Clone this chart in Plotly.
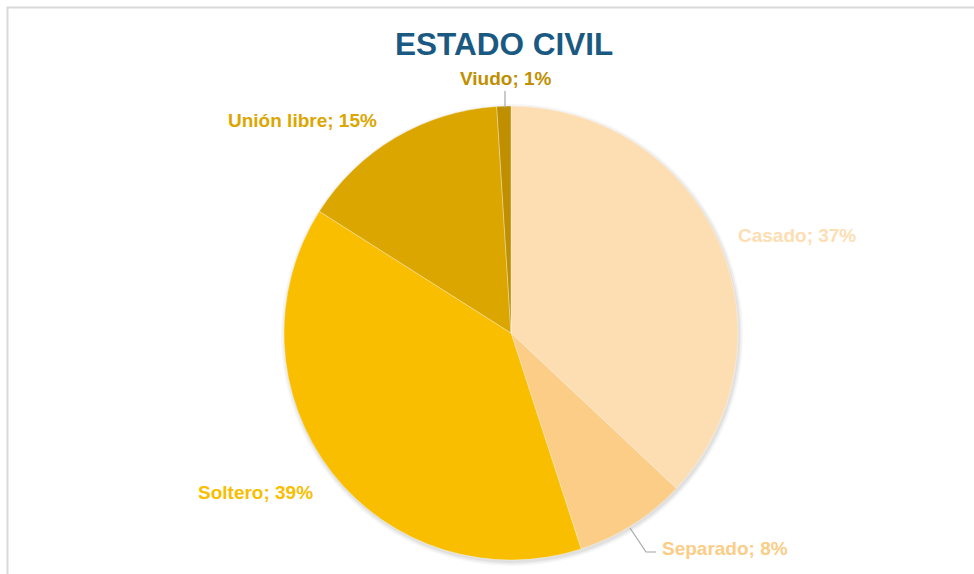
import plotly.graph_objects as go

# Data
categories = ["Casado", "Separado", "Soltero", "Unión libre", "Viudo"]
values = [37, 8, 39, 15, 1]
colors = ["#FDDEB3", "#FBCD86", "#F9BE00", "#DCA600", "#BF8F00"]

W, H = 974, 574
cx, cy, r = 511, 333, 227


def px(x):
    return x / W


def py(y):
    return 1 - y / H


fig = go.Figure()
fig.add_trace(go.Pie(
    labels=categories,
    values=values,
    sort=False,
    direction="clockwise",
    rotation=0,
    marker=dict(colors=colors, line=dict(color="rgba(255,255,255,0.45)", width=0.7)),
    textinfo="none",
    hoverinfo="label+percent",
    showlegend=False,
    domain=dict(x=[px(cx - r), px(cx + r)], y=[py(cy + r), py(cy - r)]),
))

# label placements (pixel centers) — styling only
label_pos = {
    "Casado": (797, 236),
    "Separado": (725, 548),
    "Soltero": (255, 492),
    "Unión libre": (302, 120),
    "Viudo": (506, 78),
}
total = sum(values)
annotations = []
for cat, val, col in zip(categories, values, colors):
    x, y = label_pos[cat]
    annotations.append(dict(
        x=px(x), y=py(y), xref="paper", yref="paper",
        text=f"<b>{cat}; {round(val / total * 100)}%</b>",
        showarrow=False, xanchor="center", yanchor="middle",
        font=dict(family="Liberation Sans, Arial", size=19, color=col),
    ))

annotations.append(dict(
    x=px(504), y=py(44), xref="paper", yref="paper",
    text="<b>ESTADO CIVIL</b>", showarrow=False,
    xanchor="center", yanchor="middle",
    font=dict(family="Liberation Sans, Arial", size=31.5, color="#1A5A82"),
))

shapes = []
# soft shadow
for i, a in enumerate([0.03, 0.04, 0.05]):
    rr = r + 4 - i * 1.5
    shapes.append(dict(
        type="circle", xref="paper", yref="paper", layer="below",
        x0=px(cx + 1 - rr), x1=px(cx + 1 + rr), y0=py(cy + 2 + rr), y1=py(cy + 2 - rr),
        fillcolor=f"rgba(0,0,0,{a})", line=dict(width=0),
    ))
# leader lines
lc = "#A6A6A6"
shapes.append(dict(type="line", xref="paper", yref="paper",
                   x0=px(505), y0=py(91), x1=px(505), y1=py(108),
                   line=dict(color=lc, width=1.2)))
shapes.append(dict(type="path", xref="paper", yref="paper",
                   path=f"M {px(630)} {py(528)} L {px(646)} {py(552)} L {px(656)} {py(552)}",
                   line=dict(color=lc, width=1.2)))
# chart border (top & left visible)
shapes.append(dict(type="rect", xref="paper", yref="paper",
                   x0=px(7.5), y0=py(7.5), x1=px(W + 10), y1=py(H + 10),
                   line=dict(color="#D9D9D9", width=2), fillcolor="rgba(0,0,0,0)"))

fig.update_layout(
    width=W, height=H,
    margin=dict(l=0, r=0, t=0, b=0),
    paper_bgcolor="white",
    plot_bgcolor="white",
    annotations=annotations,
    shapes=shapes,
)

fig.write_html("out.html", config={"displayModeBar": False},
               post_script="document.body.style.margin='0px';document.body.style.overflow='hidden';")
